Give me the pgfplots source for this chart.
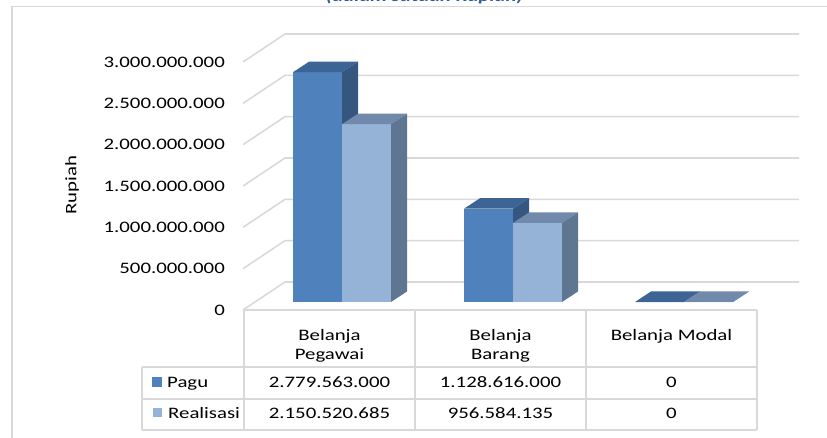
\documentclass[border=0pt]{standalone}
\usepackage{pgfplots}
\pgfplotsset{compat=1.18}
\usepackage{pgfplotstable}
\usepackage{fontspec}
\setmainfont{Carlito}[FakeStretch=1.3]
\definecolor{gridc}{HTML}{D9D9D9}
\definecolor{pfront}{HTML}{4F81BD}
\definecolor{ptop}{HTML}{3C6595}
\definecolor{pside}{HTML}{34567F}
\definecolor{rfront}{HTML}{95B3D7}
\definecolor{rtop}{HTML}{7189AA}
\definecolor{rside}{HTML}{5F7692}
\definecolor{titleblue}{HTML}{2F5B9B}

% xl = left edge of the pair of bars (axis x units = pixels)
\pgfplotstableread{
xl pagu realisasi
293 2779563000 2150520685
464 1128616000 956584135
635 0 0
}\anggaran

\newcommand\dz{127016129}% depth of a bar, in Rupiah units of the y axis
% #1 left x, #2 value, #3 front, #4 top, #5 side
\newcommand\cube[5]{%
\addplot[fill=#3,draw=none,mark=none] table[row sep=\\, x expr={#1+49*\thisrow{a}}, y expr={#2*\thisrow{h}}]{a h\\0 0\\1 0\\1 1\\0 1\\};
\addplot[fill=#4,draw=none,mark=none] table[row sep=\\, x expr={#1+49*\thisrow{a}+16*\thisrow{d}}, y expr={#2+\dz*\thisrow{d}}]{a d\\0 0\\1 0\\1 1\\0 1\\};
\addplot[fill=#5,draw=none,mark=none] table[row sep=\\, x expr={#1+49+16*\thisrow{d}}, y expr={#2*\thisrow{h}+\dz*\thisrow{d}}]{d h\\0 0\\1 0\\1 1\\0 1\\};
}
\newcommand\barpair[1]{%
\pgfplotstablegetelem{#1}{xl}\of\anggaran \edef\xa{\pgfplotsretval}%
\pgfplotstablegetelem{#1}{pagu}\of\anggaran \edef\vp{\pgfplotsretval}%
\pgfplotstablegetelem{#1}{realisasi}\of\anggaran \edef\vr{\pgfplotsretval}%
\pgfmathsetmacro\xb{\xa+49}%
\edef\doit{\noexpand\cube{\xa}{\vp}{pfront}{ptop}{pside}\noexpand\cube{\xb}{\vr}{rfront}{rtop}{rside}}%
\doit
}

\begin{document}
\begin{tikzpicture}
% back wall / side wall gridlines (pixel coordinates)
\begin{scope}[x=1pt,y=-1pt,shift={(0pt,438pt)}]
\foreach \i in {0,...,6}{
  \draw[gridc, line width=1.6pt] (243,{310-41.3333*\i}) -- (285,{282-41.3333*\i}) -- (799,{282-41.3333*\i});
}
\end{scope}

\begin{axis}[
  width=827pt, height=438pt, scale only axis,
  xmin=0, xmax=827, ymin=-1645161290, ymax=3653225806,
  axis line style={draw=none},
  xtick=\empty,
  ytick={-96774194,403225806,903225806,1403225806,1903225806,2403225806,2903225806},
  yticklabels={0,500.000.000,1.000.000.000,1.500.000.000,2.000.000.000,2.500.000.000,3.000.000.000},
  major tick length=0pt,
  scaled y ticks=false,
  /pgf/number format/assume math mode=true,
  yticklabel style={anchor=east, inner sep=0pt, xshift=225pt, font=\fontsize{16}{19}\selectfont},
  clip=false,
]
\barpair{0}
\barpair{1}
\barpair{2}
\end{axis}

\begin{scope}[x=1pt,y=-1pt,shift={(0pt,438pt)}, every node/.style={inner sep=0pt, font=\fontsize{16}{19}\selectfont}]
% frame
\draw[gridc, line width=1.5pt] (12,445) -- (12,6.5) -- (835,6.5);
% title (cut by the top edge)
\node[anchor=base, text=titleblue, font=\fontsize{16}{19}\selectfont\bfseries\itshape] at (424.5,1.5) {(dalam satuan Rupiah)};
% y label
\node[rotate=90] at (72,185) {Rupiah};
% data table
\draw[gridc, line width=1.6pt] (244,310) -- (757,310);
\draw[gridc, line width=1.6pt] (142,367) -- (757,367);
\draw[gridc, line width=1.6pt] (142,399) -- (757,399);
\draw[gridc, line width=1.6pt] (142,430) -- (757,430);
\draw[gridc, line width=1.6pt] (142,367) -- (142,430);
\foreach \xx in {244,415,586,757}{\draw[gridc, line width=1.6pt] (\xx,310) -- (\xx,430);}
\node[anchor=base] at (329.5,341) {Belanja};
\node[anchor=base] at (329.5,360) {Pegawai};
\node[anchor=base] at (500.5,341) {Belanja};
\node[anchor=base] at (500.5,360) {Barang};
\node[anchor=base] at (671.5,341) {Belanja Modal};
\fill[pfront] (152,377) rectangle (162,387);
\fill[rfront] (153,408) rectangle (162,417);
\node[anchor=base west] at (167,388) {Pagu};
\node[anchor=base west] at (168,419) {Realisasi};
\node[anchor=base] at (329.5,388) {2.779.563.000};
\node[anchor=base] at (500.5,388) {1.128.616.000};
\node[anchor=base] at (671.5,388) {0};
\node[anchor=base] at (329.5,419) {2.150.520.685};
\node[anchor=base] at (500.5,419) {956.584.135};
\node[anchor=base] at (671.5,419) {0};
\end{scope}
\pgfresetboundingbox
\useasboundingbox (0pt,0pt) rectangle (827pt,438pt);
\end{tikzpicture}
\end{document}
